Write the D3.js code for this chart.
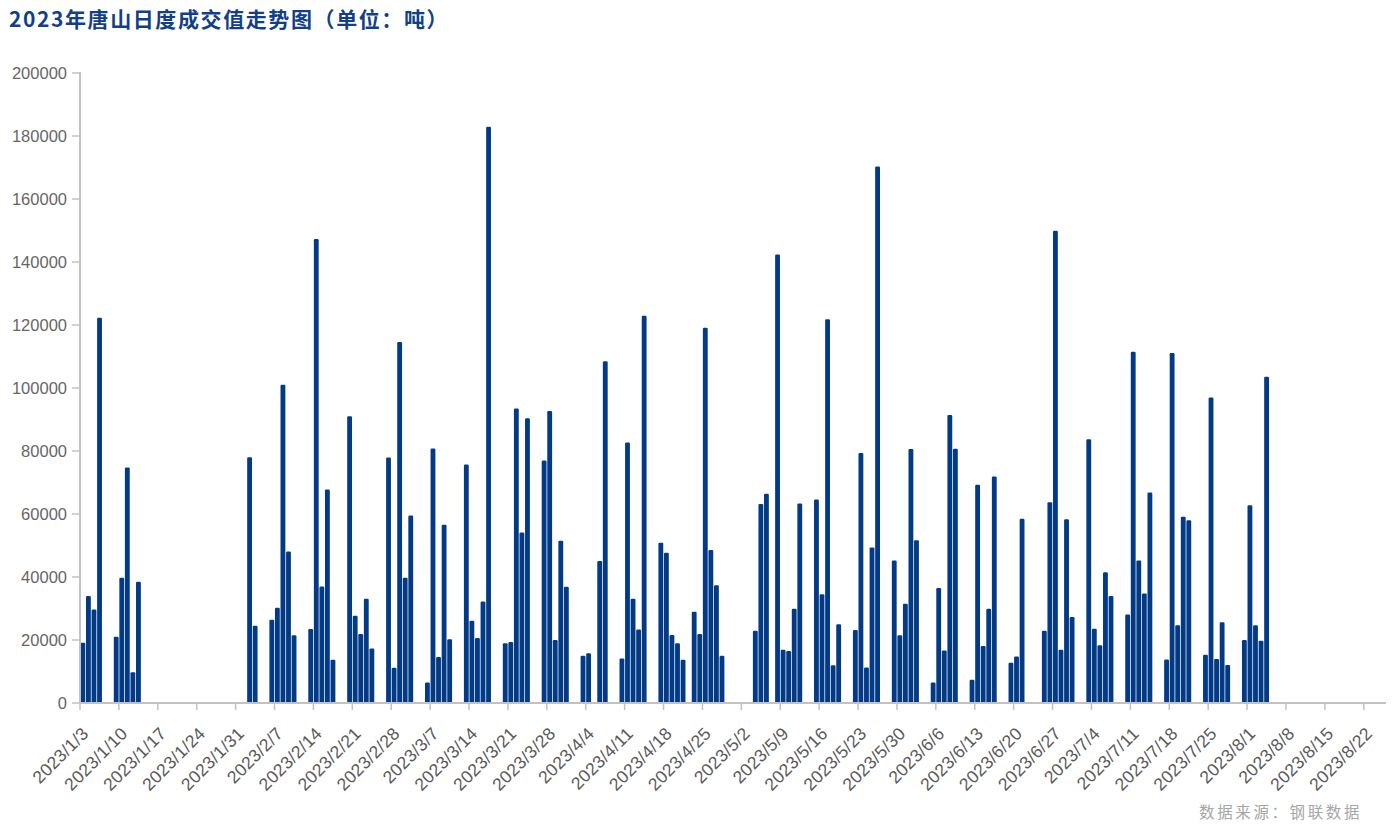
<!DOCTYPE html>
<html><head><meta charset="utf-8">
<script src="https://cdn.jsdelivr.net/npm/d3@7/dist/d3.min.js"></script>
<style>html,body{margin:0;padding:0;background:#fff;}svg{display:block;}</style>
</head><body>
<svg id="c" width="1392" height="838"></svg>
<script>
const titleText = "2023年唐山日度成交值走势图（单位：吨）";
const sourceText = "数据来源：钢联数据";
const axisStart = "2023-01-03";
const axisEnd = "2023-08-25";
const tickLabels = ["2023/1/3","2023/1/10","2023/1/17","2023/1/24","2023/1/31","2023/2/7","2023/2/14","2023/2/21","2023/2/28","2023/3/7","2023/3/14","2023/3/21","2023/3/28","2023/4/4","2023/4/11","2023/4/18","2023/4/25","2023/5/2","2023/5/9","2023/5/16","2023/5/23","2023/5/30","2023/6/6","2023/6/13","2023/6/20","2023/6/27","2023/7/4","2023/7/11","2023/7/18","2023/7/25","2023/8/1","2023/8/8","2023/8/15","2023/8/22"];
const yTicks = [0,20000,40000,60000,80000,100000,120000,140000,160000,180000,200000];
const dates = ["2023/1/3","2023/1/4","2023/1/5","2023/1/6","2023/1/9","2023/1/10","2023/1/11","2023/1/12","2023/1/13",
"2023/2/2","2023/2/3","2023/2/6","2023/2/7","2023/2/8","2023/2/9","2023/2/10",
"2023/2/13","2023/2/14","2023/2/15","2023/2/16","2023/2/17",
"2023/2/20","2023/2/21","2023/2/22","2023/2/23","2023/2/24",
"2023/2/27","2023/2/28","2023/3/1","2023/3/2","2023/3/3",
"2023/3/6","2023/3/7","2023/3/8","2023/3/9","2023/3/10",
"2023/3/13","2023/3/14","2023/3/15","2023/3/16","2023/3/17",
"2023/3/20","2023/3/21","2023/3/22","2023/3/23","2023/3/24",
"2023/3/27","2023/3/28","2023/3/29","2023/3/30","2023/3/31",
"2023/4/3","2023/4/4","2023/4/6","2023/4/7",
"2023/4/10","2023/4/11","2023/4/12","2023/4/13","2023/4/14",
"2023/4/17","2023/4/18","2023/4/19","2023/4/20","2023/4/21",
"2023/4/23","2023/4/24","2023/4/25","2023/4/26","2023/4/27","2023/4/28",
"2023/5/4","2023/5/5","2023/5/6",
"2023/5/8","2023/5/9","2023/5/10","2023/5/11","2023/5/12",
"2023/5/15","2023/5/16","2023/5/17","2023/5/18","2023/5/19",
"2023/5/22","2023/5/23","2023/5/24","2023/5/25","2023/5/26",
"2023/5/29","2023/5/30","2023/5/31","2023/6/1","2023/6/2",
"2023/6/5","2023/6/6","2023/6/7","2023/6/8","2023/6/9",
"2023/6/12","2023/6/13","2023/6/14","2023/6/15","2023/6/16",
"2023/6/19","2023/6/20","2023/6/21",
"2023/6/25","2023/6/26","2023/6/27","2023/6/28","2023/6/29","2023/6/30",
"2023/7/3","2023/7/4","2023/7/5","2023/7/6","2023/7/7",
"2023/7/10","2023/7/11","2023/7/12","2023/7/13","2023/7/14",
"2023/7/17","2023/7/18","2023/7/19","2023/7/20","2023/7/21",
"2023/7/24","2023/7/25","2023/7/26","2023/7/27","2023/7/28",
"2023/7/31","2023/8/1","2023/8/2","2023/8/3","2023/8/4"];
const values = [19100,34000,29700,122300,21000,39800,74800,9800,38500,
78000,24500,26400,30200,101000,48100,21500,
23500,147300,37000,67800,13700,
91000,27700,21900,33100,17300,
77900,11200,114600,39800,59500,
6500,80800,14600,56600,20200,
75700,26100,20600,32200,182900,
19000,19400,93500,54100,90400,
77000,92700,20000,51500,36900,
15000,15800,45100,108500,
14100,82700,33100,23300,122900,
50900,47700,21600,19000,13700,
29000,21900,119100,48600,37400,15000,
22900,63200,66400,
142400,16900,16500,29900,63300,
64600,34500,121800,12000,25000,
23200,79400,11300,49400,170300,
45200,21500,31500,80600,51700,
6500,36500,16700,91400,80700,
7400,69300,18100,29900,71900,
12800,14800,58500,
22900,63700,149900,16900,58300,27300,
83700,23600,18300,41500,34000,
28100,111500,45200,34800,66800,
13800,111100,24700,59100,58000,
15300,97000,14000,25600,12100,
20000,62800,24700,19800,103600];

(function(){
const svg = d3.select("#c");
const parse = d3.timeParse("%Y/%m/%d");
const fmt = d3.timeFormat("%Y/%-m/%-d");
const p2 = d3.timeParse("%Y-%m-%d");
const days = d3.timeDay.range(p2(axisStart), d3.timeDay.offset(p2(axisEnd),1)).map(fmt);

const mL = 80, mR = 1386, mT = 73, mB = 703;
const x = d3.scaleBand().domain(days).range([mL, mR]).padding(0);
const y = d3.scaleLinear().domain([0, 200000]).range([mB, mT]);

const barColor = "#023a86";
const axisColor = "#c2c2c2";

const bw = x.bandwidth()*0.87, off = x.bandwidth()*0.08, r = 1.2;
svg.append("g").selectAll("path").data(dates.map((d,i)=>({d: fmt(parse(d)), v: values[i]}))).join("path")
  .attr("fill", barColor)
  .attr("d", o => {
    const x0 = x(o.d) + off, x1 = x0 + bw, y0 = y(o.v), yb = y(0);
    return `M${x0},${yb}L${x0},${y0+r}Q${x0},${y0} ${x0+r},${y0}L${x1-r},${y0}Q${x1},${y0} ${x1},${y0+r}L${x1},${yb}Z`;
  });

const ya = svg.append("g");
ya.append("line").attr("x1",mL).attr("x2",mL).attr("y1",mT-1).attr("y2",mB).attr("stroke",axisColor).attr("stroke-width",2);
ya.selectAll("line.t").data(yTicks).join("line").attr("class","t")
  .attr("x1",mL-8).attr("x2",mL).attr("y1",d=>y(d)).attr("y2",d=>y(d)).attr("stroke",axisColor).attr("stroke-width",1.5);
ya.selectAll("text").data(yTicks).join("text")
  .attr("x",mL-13).attr("y",d=>y(d)).attr("dy","0.36em").attr("text-anchor","end")
  .attr("font-family","Liberation Sans, Arial, sans-serif").attr("font-size",16.5).attr("fill","#666")
  .text(d=>d);

const xa = svg.append("g");
xa.append("line").attr("x1",mL).attr("x2",mR).attr("y1",mB).attr("y2",mB).attr("stroke",axisColor).attr("stroke-width",2);
const tickDates = tickLabels.map(t => fmt(parse(t)));
xa.selectAll("line.t").data(tickDates).join("line").attr("class","t")
  .attr("x1",d=>x(d)).attr("x2",d=>x(d)).attr("y1",mB).attr("y2",mB+7).attr("stroke",axisColor).attr("stroke-width",1.5);
xa.selectAll("text").data(tickLabels).join("text")
  .attr("transform",(t,i)=>`translate(${x(tickDates[i])+1},${mB+23}) rotate(-45)`)
  .attr("text-anchor","end").attr("dy","0.7em")
  .attr("font-family","Liberation Sans, Arial, sans-serif").attr("font-size",17.5).attr("letter-spacing",0.3).attr("fill","#5a5a5a")
  .text(t=>t);

svg.append("text").attr("x",9).attr("y",27)
  .attr("font-family","Noto Sans CJK SC, sans-serif").attr("font-weight","bold").attr("font-size",21)
  .attr("letter-spacing",1.6).attr("fill","#123f8a").text(titleText);

svg.append("text").attr("x",1362).attr("y",818).attr("text-anchor","end")
  .attr("font-family","Noto Sans CJK SC, sans-serif").attr("font-size",15.5).attr("letter-spacing",2.6)
  .attr("fill","#a6a6a6").text(sourceText);
})();
</script>
</body></html>
